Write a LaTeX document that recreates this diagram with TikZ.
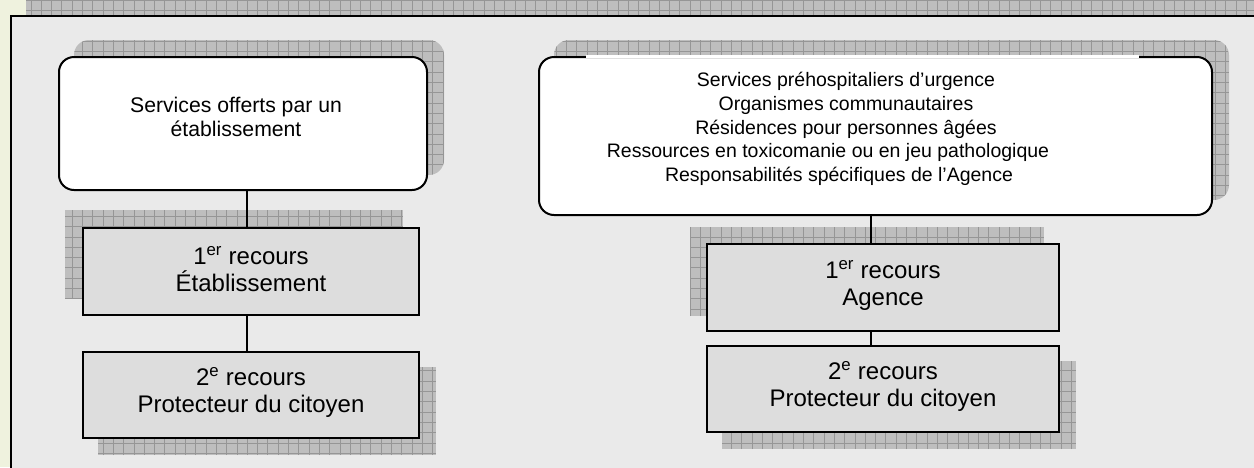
\documentclass[tikz,border=0pt]{standalone}
\usepackage{fontspec}
\setmainfont{Liberation Sans}
\usetikzlibrary{calc}
\definecolor{pale}{RGB}{239,242,222}
\definecolor{framebg}{RGB}{234,234,234}
\definecolor{shadowc}{RGB}{190,190,190}
\definecolor{gridc}{RGB}{150,150,150}
\definecolor{boxgray}{RGB}{221,221,221}
\pgfdeclarelayer{back}
\pgfdeclarelayer{shadowl}
\pgfsetlayers{back,shadowl,main}
\tikzset{
  topbox/.style={draw=black, line width=2pt, fill=white, rounded corners=15pt, inner sep=0pt},
  recbox/.style={draw=black, line width=2pt, fill=boxgray, inner sep=0pt, minimum width=336pt},
  txt/.style={align=center, inner sep=0pt},
  conn/.style={line width=2pt},
  gridshadow/.style={fill=shadowc, path picture={\draw[gridc, line width=0.7pt, step=10.3pt] (path picture bounding box.south west) grid (path picture bounding box.north east);}},
  bigtxt/.style={txt, font=\fontsize{24}{27}\selectfont},
}
\begin{document}
\begin{tikzpicture}[x=1pt, y=-1pt]
\useasboundingbox (0,0) rectangle (1254,467);
\begin{pgfonlayer}{back}
  \fill[pale] (0,0) rectangle (1254,467);
  \path[gridshadow] (26,-5) rectangle (1270,16);
  \draw[fill=framebg, line width=1.8pt] (11,16) rectangle (1270,490);
\end{pgfonlayer}

% boxes
\node[topbox, minimum width=368pt, minimum height=133pt] (tl) at (243,123.5) {};
\node[topbox, minimum width=673pt, minimum height=158pt] (tr) at (875.5,136) {};
\node[recbox, minimum height=87pt] (r1l) at (251,271.5) {};
\node[recbox, minimum height=86pt] (r2l) at (251,395) {};
\node[recbox, minimum width=352pt, minimum height=87pt] (r1r) at (883,287.5) {};
\node[recbox, minimum width=352pt, minimum height=86pt] (r2r) at (883,389) {};

% top border of the right box hidden by a white band
\draw[white, line width=3pt] ($(tr.north west)+(48,0)$) -- ($(tr.north east)+(-74,0)$);

% shadows
\begin{pgfonlayer}{shadowl}
  \path[gridshadow, rounded corners=15pt] ([shift={(16pt,16pt)}]tl.south west) rectangle ([shift={(16pt,16pt)}]tl.north east);
  \path[gridshadow, rounded corners=15pt] ([shift={(16pt,16pt)}]tr.south west) rectangle ([shift={(16pt,16pt)}]tr.north east);
  \path[gridshadow] ([shift={(-17pt,17pt)}]r1l.south west) rectangle ([shift={(-17pt,17pt)}]r1l.north east);
  \path[gridshadow] ([shift={(16pt,-16pt)}]r2l.south west) rectangle ([shift={(16pt,-16pt)}]r2l.north east);
  \path[gridshadow] ([shift={(-16pt,16pt)}]r1r.south west) rectangle ([shift={(-16pt,16pt)}]r1r.north east);
  \path[gridshadow] ([shift={(16pt,-16pt)}]r2r.south west) rectangle ([shift={(16pt,-16pt)}]r2r.north east);
\end{pgfonlayer}

% connectors
\coordinate (cl) at (247,0);
\coordinate (cr) at (871,0);
\draw[conn] (tl.south -| cl) -- (r1l.north -| cl);
\draw[conn] (r1l.south -| cl) -- (r2l.north -| cl);
\draw[conn] (tr.south -| cr) -- (r1r.north -| cr);
\draw[conn] (r1r.south -| cr) -- (r2r.north -| cr);

% texts
\node[txt, font=\fontsize{21.2}{24}\selectfont] (tltxt) at (236,117) {Services offerts par un\\établissement};
\node[txt, font=\fontsize{19.5}{23.75}\selectfont] (trtxt) at (846,129) {Services préhospitaliers d’urgence\\Organismes communautaires\\Résidences pour personnes âgées\\Ressources en toxicomanie ou en jeu pathologique\makebox[36pt]{}\\Responsabilités spécifiques de l’Agence\makebox[14pt]{}};
\node[bigtxt] (t1l) at (251,269) {1\textsuperscript{er} recours\\Établissement};
\node[bigtxt] (t2l) at (251,392.5) {2\textsuperscript{e} recours\\Protecteur du citoyen};
\node[bigtxt] (t1r) at (883,285) {1\textsuperscript{er} recours\\Agence};
\node[bigtxt] (t2r) at (883,386.5) {2\textsuperscript{e} recours\\Protecteur du citoyen};
\end{tikzpicture}
\end{document}
